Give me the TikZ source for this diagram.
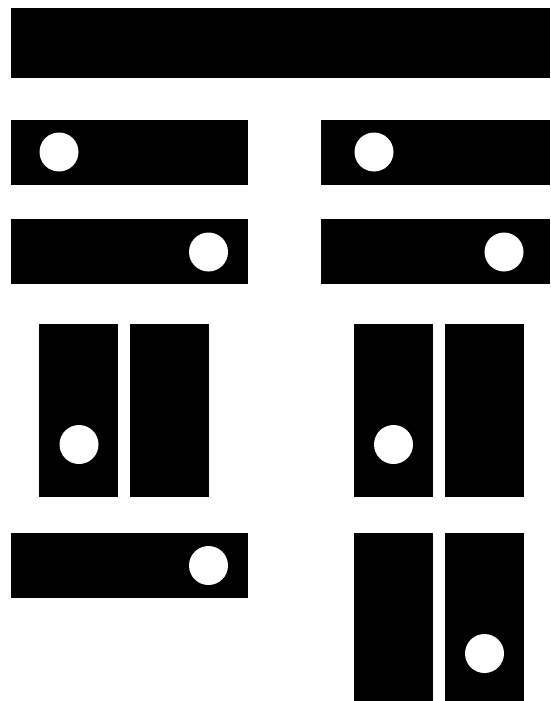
\documentclass[tikz,border=0pt]{standalone}
\usepackage{tikz}

\begin{document}
\begin{tikzpicture}[x=1pt,y=-1pt]
        \tikzset{BlockStyle/.style={fill = black},
        HoleStyle/.style={fill = white}}
        \useasboundingbox (0,0) rectangle (550,701);
        % top bar
        \fill[BlockStyle] (11,8) rectangle (550,78);
        % second row
        \fill[BlockStyle] (11,120) rectangle (248,185);
        \fill[HoleStyle] (59,152) circle (19.5);
        \fill[BlockStyle] (321,120) rectangle (550,185);
        \fill[HoleStyle] (374,152) circle (19.5);
        % third row
        \fill[BlockStyle] (11,219) rectangle (248,284);
        \fill[HoleStyle] (208.5,252) circle (19.5);
        \fill[BlockStyle] (321,219) rectangle (550,284);
        \fill[HoleStyle] (504,252) circle (19.5);
        % fourth row
        \fill[BlockStyle] (39,324) rectangle (118,496.5);
        \fill[BlockStyle] (130,324) rectangle (208.5,496.5);
        \fill[HoleStyle] (79,444.5) circle (19.5);
        \fill[BlockStyle] (354,324) rectangle (433,496.5);
        \fill[BlockStyle] (445,324) rectangle (523.5,496.5);
        \fill[HoleStyle] (393.5,444.5) circle (19.5);
        % fifth row
        \fill[BlockStyle] (11,533) rectangle (248,597.5);
        \fill[HoleStyle] (208.5,565.5) circle (19.5);
        \fill[BlockStyle] (354,533) rectangle (433,701);
        \fill[BlockStyle] (445,533) rectangle (523.5,701);
        \fill[HoleStyle] (484.5,653.5) circle (19.5);
    \end{tikzpicture}
\end{document}
